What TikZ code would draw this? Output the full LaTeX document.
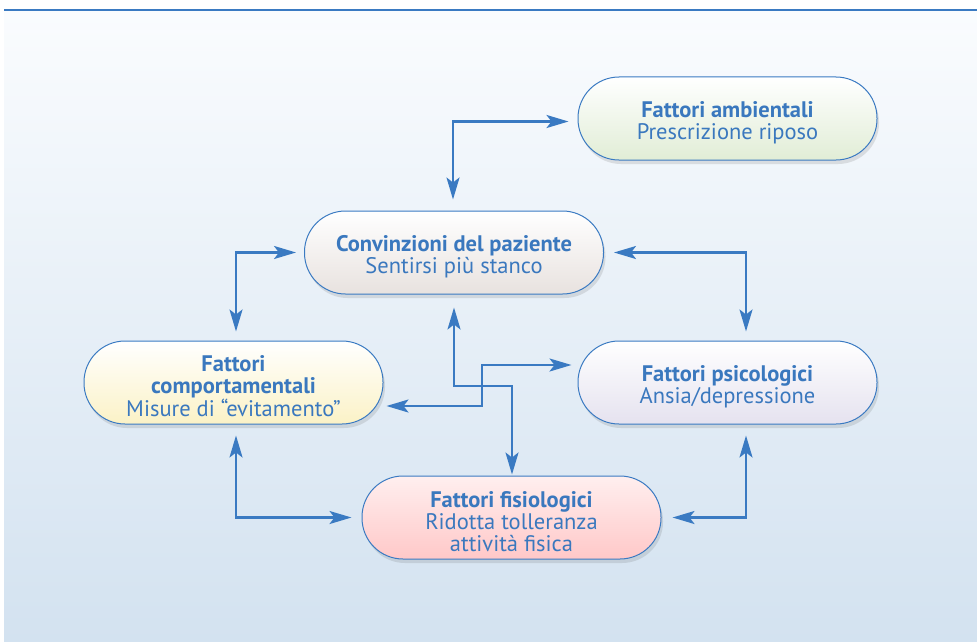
\documentclass[tikz,border=0pt]{standalone}
\usepackage{fontspec}
\setmainfont{PT Sans}
\usetikzlibrary{arrows.meta,shadows}
\definecolor{lineblue}{HTML}{3A7AC2}
\definecolor{txtblue}{HTML}{3A78BE}
\definecolor{bgtop}{HTML}{FAFCFE}
\definecolor{bgbot}{HTML}{D3E2F0}
\definecolor{ambbot}{HTML}{E1EDD6}
\definecolor{convbot}{HTML}{E8E2DF}
\definecolor{compbot}{HTML}{FBF2C6}
\definecolor{psibot}{HTML}{E5E2EF}
\definecolor{fistop}{HTML}{FFEFEF}
\definecolor{fisbot}{HTML}{FFC8C8}
\newcommand{\mytopstrut}{\rule{0pt}{24pt}}
\tikzset{
  pill/.style={draw=lineblue, line width=1pt, rounded corners=41pt,
    minimum width=299pt, minimum height=83pt, inner sep=0pt,
    align=center, text=txtblue, font=\fontsize{22.5}{22}\selectfont,
    drop shadow={shadow xshift=2pt, shadow yshift=-4pt, opacity=0.15, fill=black!70}},
  dbl/.style={draw=lineblue, line width=2.4pt,
    {Stealth[length=22pt,width=13pt,inset=5pt]}-{Stealth[length=22pt,width=13pt,inset=5pt]}}
}
\begin{document}
\begin{tikzpicture}[x=1pt,y=-1pt]
\useasboundingbox (0,0) rectangle (977,642);
\fill[white] (0,0) rectangle (977,642);
\shade[top color=bgtop, bottom color=bgbot] (4,10) rectangle (977,642);
\fill[lineblue] (4,8.7) rectangle (977,11.3);

\node[pill, top color=white, bottom color=ambbot] (amb) at (727.5,118.5)
  {\mytopstrut\textbf{Fattori ambientali}\\Prescrizione riposo};
\node[pill, top color=white, bottom color=convbot] (conv) at (454,252.5)
  {\mytopstrut\textbf{Convinzioni del paziente}\\Sentirsi più stanco};
\node[pill, top color=white, bottom color=compbot] (comp) at (233.5,382.5)
  {\mytopstrut\textbf{Fattori}\\\textbf{comportamentali}\\Misure di “evitamento”};
\node[pill, top color=white, bottom color=psibot] (psi) at (727.5,382.5)
  {\mytopstrut\textbf{Fattori psicologici}\\Ansia/depressione};
\node[pill, top color=fistop, bottom color=fisbot] (fis) at (511.5,517.5)
  {\mytopstrut\textbf{Fattori fisiologici}\\Ridotta tolleranza\\attività fisica};

\coordinate (c1) at (483,386);
\coordinate (c2) at (482,385);

\draw[dbl] ([xshift=-9pt,yshift=-3pt]amb.west) -| ([xshift=-1pt,yshift=11pt]conv.north);
\draw[dbl] ([xshift=-8pt]conv.west) -| ([xshift=2.5pt,yshift=9pt]comp.north);
\draw[dbl] ([xshift=10pt]conv.east) -| ([xshift=18.5pt,yshift=9pt]psi.north);
\draw[dbl] ([xshift=2.5pt,yshift=-11pt]comp.south) |- ([xshift=-10pt]fis.west);
\draw[dbl] ([xshift=18.5pt,yshift=-11pt]psi.south) |- ([xshift=11pt]fis.east);
\draw[dbl] ([yshift=-13pt]conv.south) |- (c1) -| ([xshift=0.5pt,yshift=1pt]fis.north);
\draw[dbl] ([xshift=3pt,yshift=-23.5pt]comp.east) -| (c2) |- ([xshift=-6pt,yshift=17.5pt]psi.west);
\end{tikzpicture}
\end{document}
